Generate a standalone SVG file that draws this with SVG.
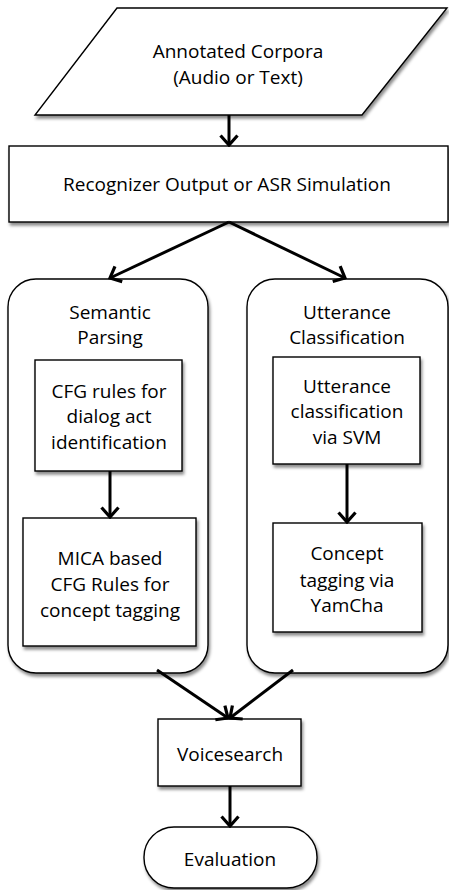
<svg xmlns="http://www.w3.org/2000/svg" width="449" height="890" viewBox="0 0 449 890">
<style>
.box{fill:#fff;stroke:#000;stroke-width:1.4;filter:url(#sh)}
.t{font-family:"Open Sans","Liberation Sans",sans-serif;font-size:19px;fill:#000;text-anchor:middle}
.c{stroke:#000;stroke-width:3;fill:none;marker-end:url(#ah)}
</style>
<defs>
<filter id="sh" x="-10%" y="-10%" width="125%" height="125%">
<feDropShadow dx="1.5" dy="3" stdDeviation="1.8" flood-color="#000" flood-opacity="0.45"/>
</filter>
<marker id="ah" viewBox="-12 -11 14 22" refX="0" refY="0" markerWidth="14" markerHeight="22" markerUnits="userSpaceOnUse" orient="auto">
<path d="M-9.5,-8.5 L0,0 L-9.5,8.5" fill="none" stroke="#000" stroke-width="3.2"/>
</marker>
</defs>
<rect width="449" height="890" fill="#fff"/>
<g id="corpora">
<polygon class="box" points="117,8 447,8 362,115 35,115"/>
<text class="t" x="238" y="58">Annotated Corpora</text>
<text class="t" x="238" y="84">(Audio or Text)</text>
</g>
<g id="recognizer">
<rect class="box" x="9" y="146" width="439" height="76"/>
<text class="t" x="227" y="191">Recognizer Output or ASR Simulation</text>
</g>
<g id="semantic">
<rect class="box" x="8" y="279" width="200" height="394" rx="28"/>
<text class="t" x="110" y="319">Semantic</text>
<text class="t" x="110" y="344">Parsing</text>
</g>
<g id="cfg">
<rect class="box" x="35" y="360" width="147" height="111"/>
<text class="t" x="109" y="398">CFG rules for</text>
<text class="t" x="109" y="423">dialog act</text>
<text class="t" x="109" y="449">identification</text>
</g>
<g id="mica">
<rect class="box" x="23" y="518" width="173" height="128"/>
<text class="t" x="110" y="565">MICA based</text>
<text class="t" x="110" y="591">CFG Rules for</text>
<text class="t" x="110" y="617">concept tagging</text>
</g>
<g id="utterance">
<rect class="box" x="247" y="279" width="201" height="394" rx="28"/>
<text class="t" x="347" y="319">Utterance</text>
<text class="t" x="347" y="344">Classification</text>
</g>
<g id="svm">
<rect class="box" x="273" y="357" width="147" height="107"/>
<text class="t" x="347" y="393">Utterance</text>
<text class="t" x="347" y="418">classification</text>
<text class="t" x="347" y="444">via SVM</text>
</g>
<g id="yamcha">
<rect class="box" x="273" y="523" width="149" height="109"/>
<text class="t" x="347" y="560">Concept</text>
<text class="t" x="347" y="587">tagging via</text>
<text class="t" x="347" y="612">YamCha</text>
</g>
<g id="voicesearch">
<rect class="box" x="158" y="719" width="143" height="67"/>
<text class="t" x="230" y="761">Voicesearch</text>
</g>
<g id="evaluation">
<rect class="box" x="144" y="827" width="173" height="61" rx="30"/>
<text class="t" x="230" y="866">Evaluation</text>
</g>
<g id="connectors">
<line class="c" x1="229" y1="115" x2="229" y2="145"/>
<line class="c" x1="229" y1="222" x2="110" y2="278"/>
<line class="c" x1="229" y1="222" x2="345" y2="278"/>
<line class="c" x1="110" y1="471" x2="110" y2="517"/>
<line class="c" x1="347" y1="464" x2="347" y2="522"/>
<line class="c" x1="157" y1="670" x2="228" y2="718"/>
<line class="c" x1="293" y1="670" x2="230" y2="718"/>
<line class="c" x1="230" y1="786" x2="230" y2="826"/>
</g>
</svg>
